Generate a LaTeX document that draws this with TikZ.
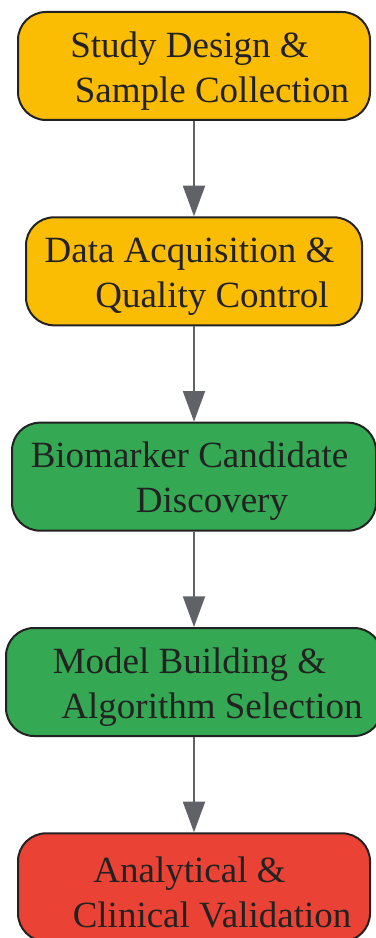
\documentclass[tikz,border=0pt]{standalone}
\usepackage{fontspec}
\setmainfont{Liberation Serif}
\usetikzlibrary{positioning,arrows.meta}

\definecolor{gelb}{HTML}{FBBC04}
\definecolor{gruen}{HTML}{34A853}
\definecolor{rot}{HTML}{EA4335}
\definecolor{rahmen}{HTML}{222222}
\definecolor{pfeilgrau}{HTML}{5F6368}

\tikzset{
  schritt/.style={draw=rahmen, line width=1.5pt, rounded corners=21pt,
    minimum height=81pt, align=center, text=rahmen,
    font=\fontsize{27.75}{33.75}\selectfont},
  pfeil/.style={draw=pfeilgrau, line width=1.5pt,
    -{Triangle[width=16.5pt,length=23pt]}}
}
% zwei Zeilen, zweite leicht nach rechts versetzt
\newcommand{\zeilen}[2]{\rule{0pt}{26.5pt}#1\hspace*{6.75pt}\\\hspace*{27pt}#2}

\begin{document}
\begin{tikzpicture}[x=0.75pt,y=-0.75pt]
  \useasboundingbox (0,0) rectangle (375,938);

  % Schritte
  \node[schritt, fill=gelb, minimum width=264pt] (design) at (194,66)
    {\zeilen{Study Design \&}{Sample Collection}};
  \node[schritt, fill=gelb, minimum width=252pt, below=71.5pt of design] (daten)
    {\zeilen{Data Acquisition \&}{Quality Control}};
  \node[schritt, fill=gruen, minimum width=273pt, below=71.5pt of daten] (kandidat)
    {\zeilen{Biomarker Candidate}{Discovery}};
  \node[schritt, fill=gruen, minimum width=282pt, below=71.5pt of kandidat] (modell)
    {\zeilen{Model Building \&}{Algorithm Selection}};
  \node[schritt, fill=rot, minimum width=264pt, below=71.5pt of modell] (validierung)
    {\zeilen{Analytical \&}{Clinical Validation}};

  % Pfeile
  \draw[pfeil] (design) -- (daten);
  \draw[pfeil] (daten) -- (kandidat);
  \draw[pfeil] (kandidat) -- (modell);
  \draw[pfeil] (modell) -- (validierung);
\end{tikzpicture}
\end{document}
